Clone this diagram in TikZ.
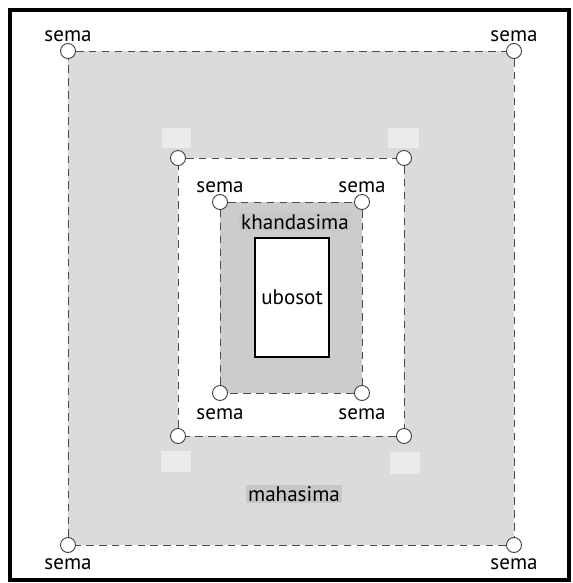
\documentclass[tikz,border=0pt]{standalone}
\usepackage{fontspec}
\setsansfont{PT Sans}
\usetikzlibrary{positioning, backgrounds}

\begin{document}
\begin{tikzpicture}[
  x=0.03cm, y=-0.03cm,
  sema/.style   = {circle, draw=black!75, fill=white, line width=0.8pt,
                   minimum size=0.45cm, inner sep=0pt},
  bound/.style  = {draw=black!70, line width=0.8pt, dash pattern=on 6.5pt off 4.5pt},
  lbl/.style    = {font=\sffamily\fontsize{18}{21}\selectfont, inner sep=1pt},
  tag/.style    = {lbl, fill=black!22, inner sep=1.5pt},
  patch/.style  = {fill=black!8},
]
\useasboundingbox (0,0) rectangle (573,583);

%% ── Frame ───────────────────────────────────────────────────────────────
\draw[line width=2.6pt] (10,10) rectangle (569,580);

%% ── Boundary stones (sema) ──────────────────────────────────────────────
\node[sema] (otl) at (68,51)   {};
\node[sema] (otr) at (514,51)  {};
\node[sema] (obl) at (68,545)  {};
\node[sema] (obr) at (514,545) {};

\node[sema] (mtl) at (178,158) {};
\node[sema] (mtr) at (404,158) {};
\node[sema] (mbl) at (178,436) {};
\node[sema] (mbr) at (404,436) {};

\node[sema] (itl) at (220,202) {};
\node[sema] (itr) at (362,202) {};
\node[sema] (ibl) at (220,393) {};
\node[sema] (ibr) at (362,393) {};

%% ── Zones ───────────────────────────────────────────────────────────────
\begin{scope}[on background layer]
  \fill[black!14] (otl.center) rectangle (obr.center);
  \fill[patch] (162,128) rectangle (191,148);
  \fill[patch] (388,128) rectangle (419,148);
  \fill[patch] (161,451) rectangle (191,472);
  \fill[patch] (390,452) rectangle (420,474);
  \fill[white] (mtl.center) rectangle (mbr.center);
  \fill[black!20] (itl.center) rectangle (ibr.center);
\end{scope}

\node[draw, line width=0.9pt, fill=white, minimum width=2.22cm,
      minimum height=3.57cm, inner sep=0pt] (ubosot) at (292,297.5) {};
\node[lbl] at (ubosot) {ubosot};

%% ── Dashed boundaries ───────────────────────────────────────────────────
\draw[bound] (otl) -- (otr);
\draw[bound] (otr) -- (obr);
\draw[bound] (obr) -- (obl);
\draw[bound] (obl) -- (otl);
\draw[bound] (mtl) -- (mtr);
\draw[bound] (mtr) -- (mbr);
\draw[bound] (mbr) -- (mbl);
\draw[bound] (mbl) -- (mtl);
\draw[bound] (itl) -- (itr);
\draw[bound] (itr) -- (ibr);
\draw[bound] (ibr) -- (ibl);
\draw[bound] (ibl) -- (itl);

%% ── Labels ──────────────────────────────────────────────────────────────
\node[lbl, above=0pt of otl] (lotl) {sema};
\node[lbl, above=0pt of otr] (lotr) {sema};
\node[lbl, below=4pt of obl] (lobl) {sema};
\node[lbl, below=4pt of obr] (lobr) {sema};
\node[lbl, above=0pt of itl] (litl) {sema};
\node[lbl, above=0pt of itr] (litr) {sema};
\node[lbl, below=5pt of ibl] (libl) {sema};
\node[lbl, below=5pt of ibr] (libr) {sema};

\node[tag] (khanda) at (295,222) {khandasima};
\node[tag] (maha)   at (294,494) {mahasima};

\end{tikzpicture}
\end{document}
